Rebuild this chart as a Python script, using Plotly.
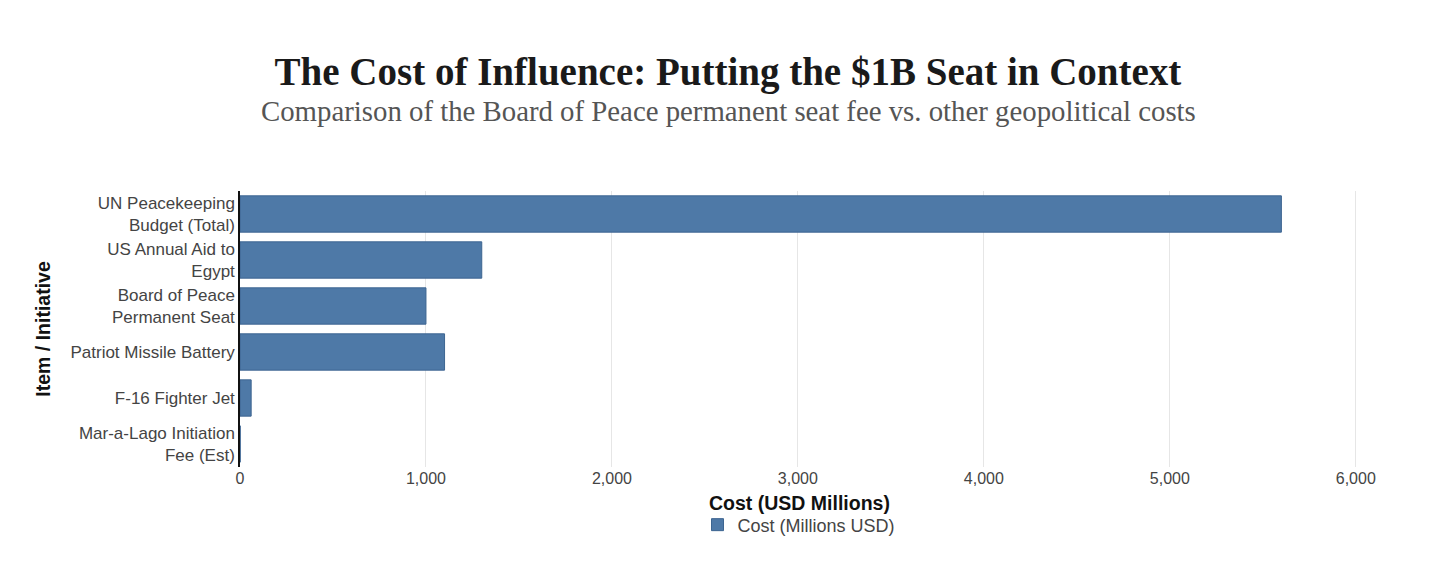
import plotly.graph_objects as go

# data, top to bottom as shown
items = [
    "UN Peacekeeping<br>Budget (Total)",
    "US Annual Aid to<br>Egypt",
    "Board of Peace<br>Permanent Seat",
    "Patriot Missile Battery",
    "F-16 Fighter Jet",
    "Mar-a-Lago Initiation<br>Fee (Est)",
]
costs = [5600, 1300, 1000, 1100, 60, 1]

x_ticks = [0, 1000, 2000, 3000, 4000, 5000, 6000]

bar_color = "#4e79a7"

fig = go.Figure(
    go.Bar(
        x=costs,
        y=items,
        orientation="h",
        name="Cost (Millions USD)",
        marker=dict(color=bar_color, line=dict(color="#3d6591", width=1)),
        showlegend=True,
    )
)

fig.update_layout(
    width=1456,
    height=569,
    paper_bgcolor="white",
    plot_bgcolor="white",
    font=dict(family="Liberation Sans, Arial, sans-serif", size=16, color="#444"),
    title=dict(
        text="<b>The Cost of Influence: Putting the $1B Seat in Context</b>",
        font=dict(family="Liberation Serif, serif", size=39, color="#1a1a1a"),
        x=0.4945,
        xanchor="center",
        y=0.8895,
        yanchor="middle",
    ),
    annotations=[
        dict(
            text="Comparison of the Board of Peace permanent seat fee vs. other geopolitical costs",
            font=dict(family="Liberation Serif, serif", size=28.8, color="#555"),
            xref="paper", yref="paper",
            x=0.4373, y=1.291,
            xanchor="center", yanchor="middle",
            showarrow=False,
        ),
        # x axis title, placed by hand so it sits where the reference has it
        dict(
            text="<b>Cost (USD Millions)</b>",
            font=dict(size=19.5, color="#111"),
            xref="paper", yref="paper",
            x=0.5, y=-0.13,
            xanchor="center", yanchor="middle",
            showarrow=False,
        ),
    ],
    margin=dict(l=232, r=106, t=183, b=110, autoexpand=False),
    bargap=0.21,
    legend=dict(
        orientation="h",
        x=0.5,
        xanchor="center",
        yref="container",
        y=0.124,
        yanchor="top",
        font=dict(size=18, color="#444"),
    ),
)

fig.update_xaxes(
    range=[0, 6012],
    tickvals=x_ticks,
    tickformat=",",
    tickfont=dict(size=16, color="#444"),
    showgrid=True,
    gridcolor="#e6e6e6",
    zeroline=False,
    showline=False,
    ticks="",
)

fig.update_yaxes(
    categoryorder="array",
    categoryarray=items,
    autorange="reversed",
    showline=True,
    linecolor="#111",
    linewidth=1.5,
    showgrid=False,
    ticks="",
    tickfont=dict(size=17, color="#444"),
    title=dict(text="<b>Item / Initiative</b>",
               font=dict(size=19.5, color="#111"), standoff=15),
)

fig.write_html("out.html")
